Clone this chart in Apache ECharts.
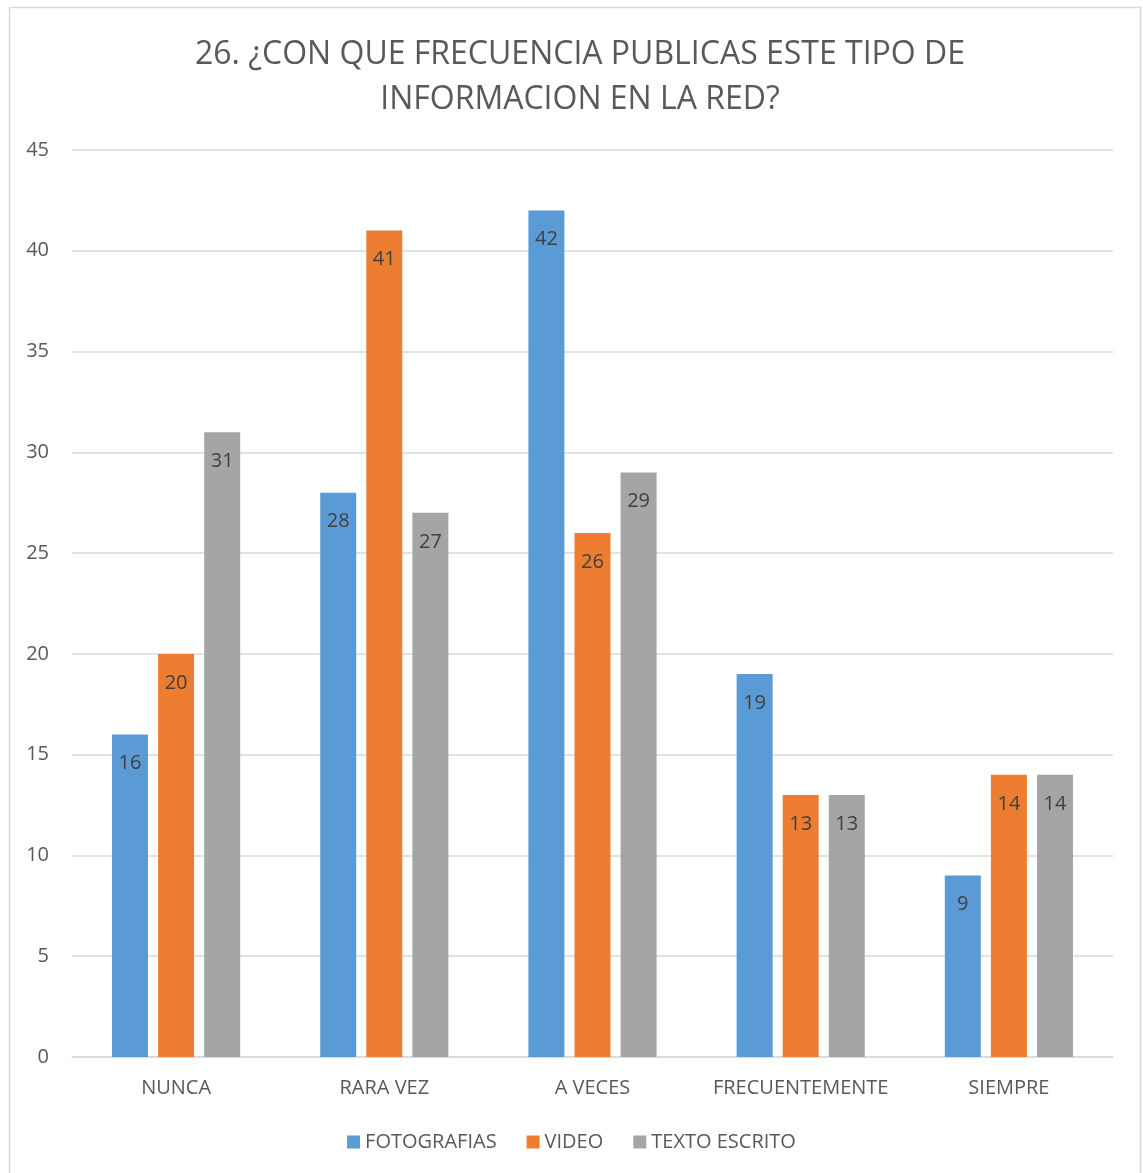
<!DOCTYPE html>
<html>
<head>
<meta charset="utf-8">
<script src="https://cdn.jsdelivr.net/npm/echarts@6/dist/echarts.min.js"></script>
<style>
  html, body { margin: 0; padding: 0; background: #fff; }
  #chart { width: 1143px; height: 1173px; }
</style>
</head>
<body>
<div id="chart"></div>
<script>
const categories = ['NUNCA', 'RARA VEZ', 'A VECES', 'FRECUENTEMENTE', 'SIEMPRE'];
const fotografias = [16, 28, 42, 19, 9];
const video = [20, 41, 26, 13, 14];
const textoEscrito = [31, 27, 29, 13, 14];

const font = 'Open Sans';
const chart = echarts.init(document.getElementById('chart'));

function barSeries(name, data, color) {
    return {
        name: name,
        type: 'bar',
        data: data,
        barWidth: 36,
        barGap: '28%',
        itemStyle: { color: color },
        label: {
            show: true,
            position: 'insideTop',
            distance: 19,
            color: '#404040',
            fontFamily: font,
            fontSize: 20
        }
    };
}

chart.setOption({
    animation: false,
    textStyle: { fontFamily: font },
    graphic: [{
        type: 'rect',
        shape: { x: 9.5, y: 7.5, width: 1131, height: 1200 },
        style: { fill: 'none', stroke: '#d9d9d9', lineWidth: 1.5 },
        silent: true
    }],
    title: {
        text: '26. ¿CON QUE FRECUENCIA PUBLICAS ESTE TIPO DE\nINFORMACION EN LA RED?',
        left: 575,
        textAlign: 'center',
        top: 27,
        textStyle: {
            fontFamily: font,
            fontSize: 32,
            fontWeight: 'normal',
            color: '#595959',
            lineHeight: 45
        }
    },
    legend: {
        bottom: 16,
        left: 'center',
        itemWidth: 13,
        itemHeight: 13,
        itemGap: 30,
        icon: 'rect',
        textStyle: { fontFamily: font, fontSize: 20, color: '#595959' },
        data: ['FOTOGRAFIAS', 'VIDEO', 'TEXTO ESCRITO']
    },
    grid: { left: 72, right: 30, top: 150, bottom: 116 },
    xAxis: {
        type: 'category',
        data: categories,
        axisTick: { show: false },
        axisLine: { lineStyle: { color: '#d9d9d9', width: 1.5 } },
        axisLabel: { interval: 0, fontFamily: font, fontSize: 20, color: '#595959', margin: 21 }
    },
    yAxis: {
        type: 'value',
        min: 0,
        max: 45,
        interval: 5,
        axisLine: { show: false },
        axisTick: { show: false },
        splitLine: { lineStyle: { color: '#d9d9d9', width: 1.5 } },
        axisLabel: { fontFamily: font, fontSize: 20, color: '#595959', margin: 23 }
    },
    series: [
        barSeries('FOTOGRAFIAS', fotografias, '#5b9bd5'),
        barSeries('VIDEO', video, '#ed7d31'),
        barSeries('TEXTO ESCRITO', textoEscrito, '#a5a5a5')
    ]
});
</script>
</body>
</html>
